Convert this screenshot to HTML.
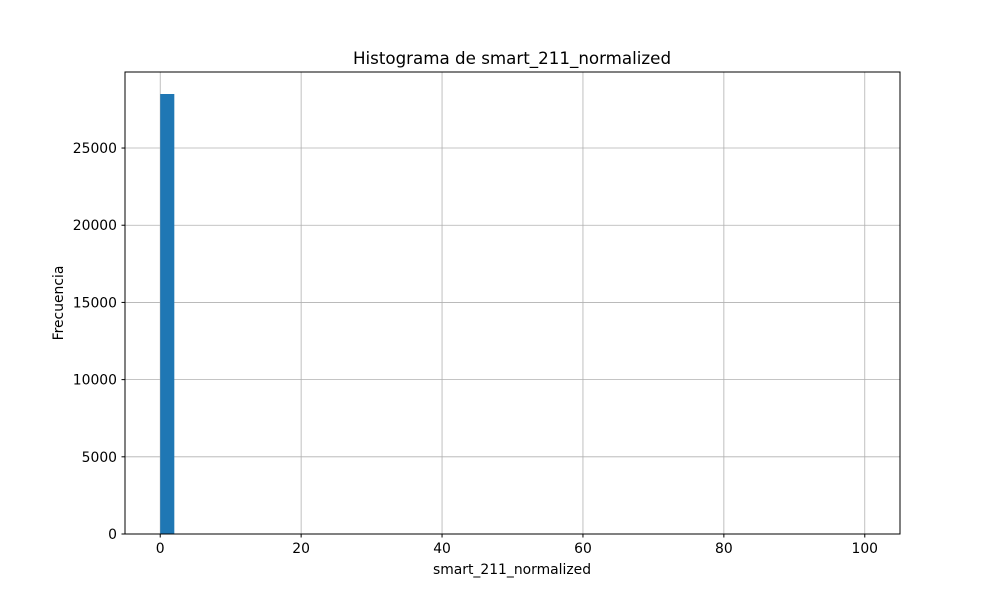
<!DOCTYPE html>
<html><head><meta charset="utf-8"><style>
body{margin:0;background:#fff;}
svg{display:block;font-family:"DejaVu Sans","Liberation Sans",sans-serif;}
</style></head><body>
<svg id="chart" width="1000" height="600">
<rect width="1000" height="600" fill="#fff"/>
<g id="grid"></g><g id="bars"></g><g id="ticks"></g>
<rect x="125" y="72" width="775" height="462" fill="none" stroke="#000" stroke-width="1"/>
<text x="512" y="64" font-size="16.7" text-anchor="middle">Histograma de smart_211_normalized</text>
<text x="512" y="574" font-size="13.9" text-anchor="middle">smart_211_normalized</text>
<text x="63" y="303" font-size="13.9" text-anchor="middle" transform="rotate(-90 63 303)">Frecuencia</text>
</svg>
<script>
const binStart = 0, binWidth = 2;
const counts = [28500,0,0,0,0,0,0,0,0,0,0,0,0,0,0,0,0,0,0,0,0,0,0,0,0,0,0,0,0,0,0,0,0,0,0,0,0,0,0,0,0,0,0,0,0,0,0,0,0,0];
const xTicks = [0,20,40,60,80,100];
const yTicks = [0,5000,10000,15000,20000,25000];
const xMin=-5,xMax=105,yMax=29925;
const L=125,R=900,T=72,B=534;
const sx=v=>L+(v-xMin)/(xMax-xMin)*(R-L);
const sy=v=>B-v/yMax*(B-T);
const NS="http://www.w3.org/2000/svg";
function mk(t,a,p){const e=document.createElementNS(NS,t);for(const k in a)e.setAttribute(k,a[k]);p.appendChild(e);return e;}
const grid=document.getElementById('grid'),bars=document.getElementById('bars'),ticks=document.getElementById('ticks');
xTicks.forEach(v=>{const x=sx(v);
 const g=mk('line',{x1:x,x2:x,y1:T,y2:B,stroke:'#b0b0b0','stroke-width':0.8},grid);
 
 
 const t=mk('line',{x1:x,x2:x,y1:B,y2:B+3.5,stroke:'#000'},ticks);
 
 
 const l=mk('text',{x:x,y:B+19,'font-size':13.9,'text-anchor':'middle'},ticks);l.textContent=v;
 
 
});
yTicks.forEach(v=>{const y=sy(v);
 const g=mk('line',{x1:L,x2:R,y1:y,y2:y,stroke:'#b0b0b0','stroke-width':0.8},grid);
 
 
 const t=mk('line',{x1:L-3.5,x2:L,y1:y,y2:y,stroke:'#000'},ticks);
 
 
 const l=mk('text',{x:L-8,y:y+5,'font-size':13.9,'text-anchor':'end'},ticks);l.textContent=v;
 
 
});
counts.forEach((c,i)=>{if(c<=0)return;const x0=sx(binStart+i*binWidth),x1=sx(binStart+(i+1)*binWidth);
 const r=mk('rect',{x:x0,y:sy(c),width:x1-x0,height:B-sy(c),fill:'#1f77b4'},bars);
 
 
});
</script>
</body></html>
